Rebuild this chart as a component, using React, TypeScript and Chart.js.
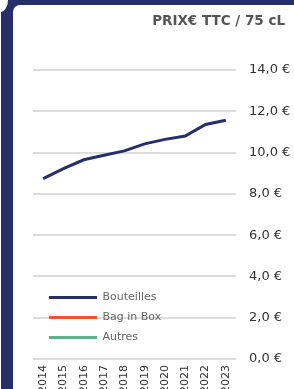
import React, { useEffect, useRef } from "react";
import { Chart, registerables } from "chart.js";

Chart.register(...registerables);

const years = ["2014", "2015", "2016", "2017", "2018", "2019", "2020", "2021", "2022", "2023"];
const bouteilles = [8.74, 9.22, 9.65, 9.87, 10.08, 10.42, 10.64, 10.8, 11.36, 11.57];
const bagInBox: (number | null)[] = [null, null, null, null, null, null, null, null, null, null];
const autres: (number | null)[] = [null, null, null, null, null, null, null, null, null, null];
const yTicks = [0, 2, 4, 6, 8, 10, 12, 14];

const NAVY = "#262f6a";
const ORANGE = "#e8552e";
const GREEN = "#5fae8c";
const FONT = "'DejaVu Sans', sans-serif";

const shiftPlugin = {
  id: "shiftPlugin",
  afterLayout(chart: any) {
    const ca = chart.chartArea;
    const lg = chart.legend;
    if (lg) {
      const w = lg.width;
      lg.left = ca.left + 7;
      lg.right = lg.left + w;
      const h = lg.height;
      lg.bottom = ca.bottom - 7;
      lg.top = lg.bottom - h;
    }
    const tb = chart.titleBlock;
    if (tb) {
      tb.left -= 6;
      tb.right -= 6;
    }
  },
};

export default function App() {
  const ref = useRef<HTMLCanvasElement>(null);
  useEffect(() => {
    document.body.style.margin = "0";
    const canvas = ref.current!;
    const chart = new Chart(canvas, {
      type: "line",
      data: {
        labels: years,
        datasets: [
          { label: "Bouteilles", data: bouteilles, borderColor: NAVY, backgroundColor: NAVY, borderWidth: 3, pointRadius: 0, tension: 0 },
          { label: "Bag in Box", data: bagInBox, borderColor: ORANGE, backgroundColor: ORANGE, borderWidth: 3, pointRadius: 0 },
          { label: "Autres", data: autres, borderColor: GREEN, backgroundColor: GREEN, borderWidth: 3, pointRadius: 0 },
        ],
      },
      options: {
        responsive: false,
        animation: false,
        layout: { padding: { left: 33, right: 3, top: 0, bottom: 0 } },
        plugins: {
          tooltip: { enabled: false },
          title: {
            display: true,
            text: "PRIX€ TTC / 75 cL",
            align: "end",
            color: "#555555",
            font: { family: FONT, size: 13.5, weight: "bold" },
            padding: { top: 13, bottom: 40.8 },
          },
          legend: {
            position: "chartArea" as any,
            align: "end",
            labels: {
              boxWidth: 48,
              boxHeight: 3,
              padding: 9,
              color: "#666666",
              font: { family: FONT, size: 11 },
              generateLabels: (c: any) =>
                (Chart.defaults.plugins.legend.labels.generateLabels as any)(c).map((l: any) => ({
                  ...l,
                  lineWidth: 0,
                  fillStyle: l.strokeStyle,
                })),
            },
          },
        },
        scales: {
          x: {
            offset: true,
            grid: { display: false, drawTicks: false },
            border: { display: false },
            ticks: { maxRotation: 90, minRotation: 90, padding: 6, color: "#333333", font: { family: FONT, size: 11 } },
            afterFit: (s: any) => {
              s.height = 36;
            },
          },
          y: {
            position: "right",
            min: 0,
            max: 14,
            grid: { color: "#dddddd", lineWidth: 2, drawTicks: false },
            border: { display: false },
            afterBuildTicks: (s: any) => {
              s.ticks = yTicks.map((v) => ({ value: v }));
            },
            ticks: {
              padding: 13,
              color: "#333333",
              font: { family: FONT, size: 13 },
              callback: (v: any) => Number(v).toFixed(1).replace(".", ",") + " €",
            },
            afterFit: (s: any) => {
              s.width = 55;
            },
          },
        },
      },
      plugins: [shiftPlugin],
    });
    return () => chart.destroy();
  }, []);

  return (
    <div style={{ position: "fixed", left: 0, top: 0, width: 294, height: 389, overflow: "hidden", background: "#fff" }}>
      <div style={{ position: "absolute", left: 1, top: 0, right: 0, bottom: 0, background: NAVY }} />
      <div style={{ position: "absolute", left: 0, top: 0, width: 8, height: 12, background: "#fff", borderBottomRightRadius: "8px 12px" }} />
      <div style={{ position: "absolute", left: 13, top: 5, right: 0, bottom: 0, background: "#fff", borderTopLeftRadius: 7 }} />
      <canvas ref={ref} width={294} height={395} style={{ position: "absolute", left: 0, top: 0, width: 294, height: 395 }} />
    </div>
  );
}
